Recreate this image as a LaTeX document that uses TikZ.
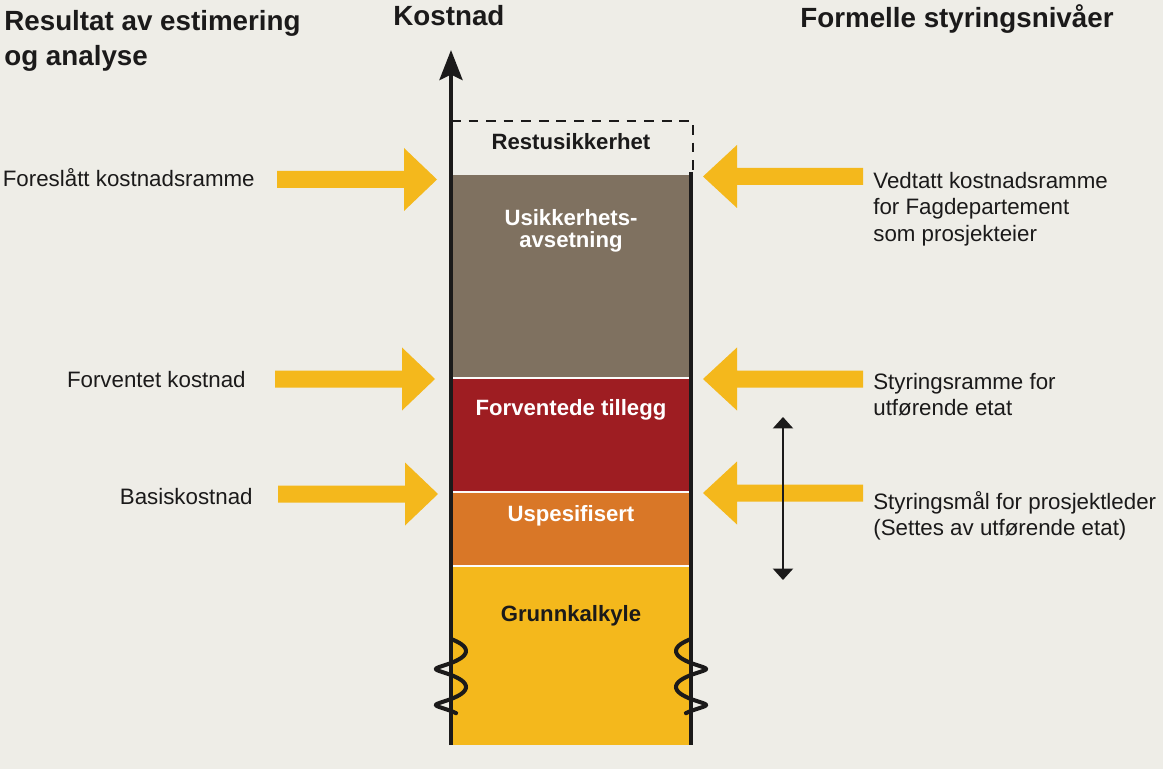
\documentclass[tikz,border=0pt]{standalone}
\usepackage{fontspec}
\setmainfont{Liberation Sans}
\usetikzlibrary{arrows.meta}
\definecolor{bgcol}{HTML}{EEEDE7}
\definecolor{inkcol}{HTML}{1B1A1A}
\definecolor{arrowcol}{HTML}{F4B81C}
\definecolor{brownblk}{HTML}{7F7160}
\definecolor{redblk}{HTML}{9E1D22}
\definecolor{orangeblk}{HTML}{D97727}
\definecolor{yellowblk}{HTML}{F4B81C}
% fat arrow: tail x, head base x, tip x, centre y
\def\fatarrow(#1,#2,#3)(#4){\fill[arrowcol] (#1,#4-8.5) -- (#2,#4-8.5) -- (#2,#4-31.5) -- (#3,#4) -- (#2,#4+31.5) -- (#2,#4+8.5) -- (#1,#4+8.5) -- cycle;}
\tikzset{
  lbl/.style={font=\fontsize{12.7}{15}\selectfont, inner sep=0pt, text=inkcol},
  hdr/.style={font=\bfseries\fontsize{15.8}{19.8}\selectfont, inner sep=0pt, text=inkcol},
  blk/.style={font=\bfseries\fontsize{12.6}{12.8}\selectfont, inner sep=0pt, align=center},
}
\begin{document}
\begin{tikzpicture}[x=0.2mm, y=-0.2mm]
			%%%%% START %%%%%
			
			\fill[bgcol] (0,0) rectangle (1163,769);
			\useasboundingbox (0,0) rectangle (1163,769);
			
			% cost column
			\fill[brownblk] (451,175) rectangle (691,378);
			\fill[redblk] (451,378) rectangle (691,492);
			\fill[orangeblk] (451,492) rectangle (691,566);
			\fill[yellowblk] (451,566) rectangle (691,745);
			\foreach \y in {378,492,566}
				\draw[white!85!bgcol, line width=0.9pt] (453,\y) -- (689,\y);
			
			\draw[inkcol, line width=1.4pt, dash pattern=on 5.5pt off 4.5pt] (451,121) -- (693,121) -- (693,175);
			\draw[inkcol, line width=2.7pt] (691,172) -- (691,745);
			\draw[inkcol, line width=2.7pt, -{Stealth[length=17pt,width=13pt,inset=3pt]}] (451,745) -- (451,50);
			
			% broken scale
			\draw[inkcol, line width=2.3pt, line cap=round] plot[domain=0:74, samples=70, smooth] ({451+15*sin(10*\x)},{642+\x-3*cos(10*\x)});
			\draw[inkcol, line width=2.3pt, line cap=round] plot[domain=0:74, samples=70, smooth] ({691-15*sin(10*\x)},{642+\x-3*cos(10*\x)});
			
			% block texts
			\node[blk, text=inkcol, anchor=base] (restusikkerhet) at (571,150) {Restusikkerhet};
			\node[blk, text=white, anchor=north] (usikkerhet) at (571,209) {Usikkerhets-\\avsetning};
			\node[blk, text=white, anchor=base] (tillegg) at (571,415) {Forventede tillegg};
			\node[blk, text=white, anchor=base] (uspesifisert) at (571,521) {Uspesifisert};
			\node[blk, text=inkcol, anchor=base] (grunnkalkyle) at (571,621) {Grunnkalkyle};
			
			% arrows in from the left
			\fatarrow(277,404,437)(179.5)
			\fatarrow(275,402,435)(379)
			\fatarrow(278,405,438)(494)
			
			% arrows in from the right
			\fatarrow(863,737,703)(176.5)
			\fatarrow(863,737,703)(379)
			\fatarrow(863,737,703)(493)
			
			\coordinate (spantop) at (783,417);
			\coordinate (spanbot) at (783,580);
			\draw[inkcol, line width=0.8pt, {Triangle[width=11.5pt,length=6.5pt]}-{Triangle[width=11.5pt,length=6.5pt]}] (spantop) -- (spanbot);
			
			% labels
			\node[lbl, anchor=base east] (foreslatt) at (255,187) {Foreslått kostnadsramme};
			\node[lbl, anchor=base east] (forventet) at (246,387) {Forventet kostnad};
			\node[lbl, anchor=base east] (basis) at (253,504) {Basiskostnad};
			
			\node[lbl, anchor=north west, align=left] (vedtatt) at (873,172) {Vedtatt kostnadsramme\\for Fagdepartement\\som prosjekteier};
			\node[lbl, anchor=north west, align=left] (styringsramme) at (873,373) {Styringsramme for\\utførende etat};
			\node[lbl, anchor=north west, align=left] (styringsmal) at (873,491) {Styringsmål for prosjektleder\\(Settes av utførende etat)};
			
			% headings
			\node[hdr, anchor=north west, align=left] (resultat) at (4,10) {Resultat av estimering\\og analyse};
			\node[hdr, anchor=base west] (kostnad) at (393,26) {Kostnad};
			\node[hdr, anchor=base west] (formelle) at (800,28) {Formelle styringsnivåer};
			
			%%%%% END %%%%%
\end{tikzpicture}
\end{document}
